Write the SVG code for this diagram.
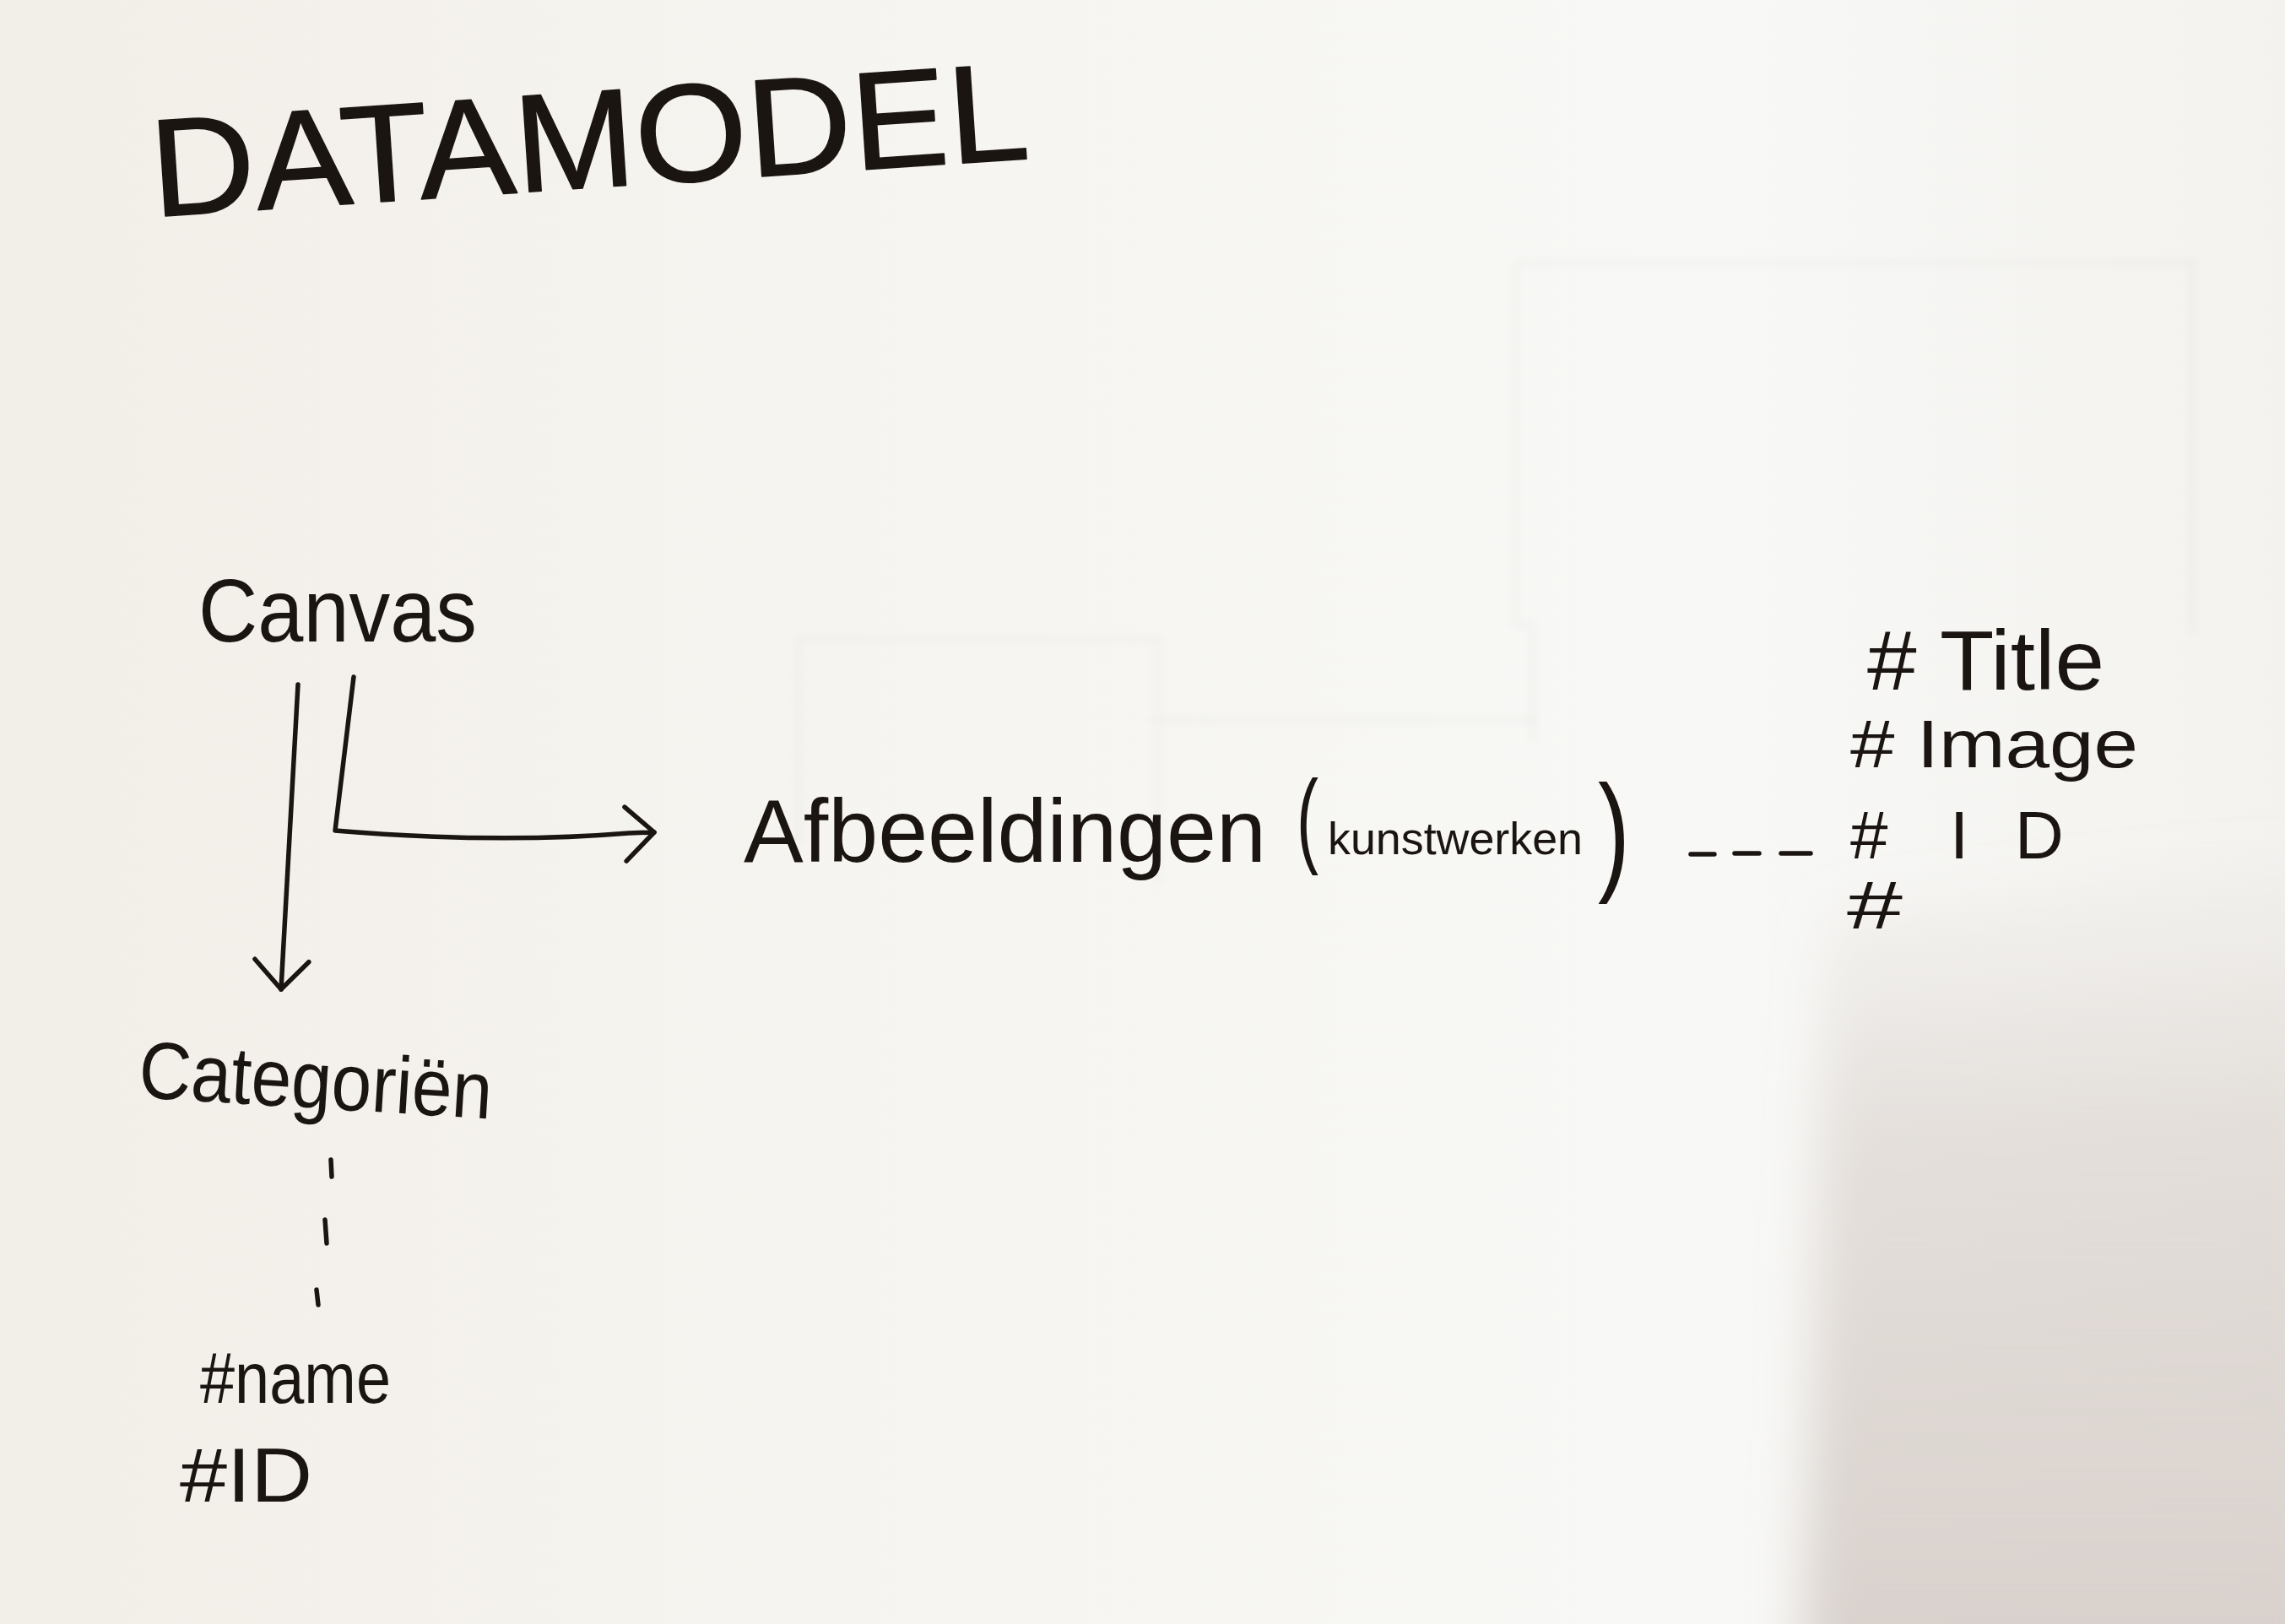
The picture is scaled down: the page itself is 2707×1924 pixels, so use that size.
<svg xmlns="http://www.w3.org/2000/svg" width="2707" height="1924" viewBox="0 0 2707 1924">
  <style>
    .ink { fill: #1b1512; font-family: "Liberation Sans", Arial, sans-serif; }
    .bold { stroke: #1b1512; stroke-width: 1.5; stroke-linejoin: round; }
    .line { fill: none; stroke: #1b1512; stroke-width: 5.5; stroke-linecap: round; stroke-linejoin: round; }
    .ghost { fill: none; stroke: #000; stroke-opacity: 0.02; stroke-width: 9; }
  </style>
  <defs>
    <linearGradient id="paper" x1="0" y1="0" x2="1" y2="0">
      <stop offset="0" stop-color="#f2eee8"/>
      <stop offset="0.4" stop-color="#f6f5f1"/>
      <stop offset="0.75" stop-color="#f8f8f6"/>
      <stop offset="1" stop-color="#f3f2ef"/>
    </linearGradient>
    <linearGradient id="shade" x1="0" y1="0" x2="0" y2="1">
      <stop offset="0" stop-color="#d8d0cb" stop-opacity="0"/>
      <stop offset="0.35" stop-color="#d8d0cb" stop-opacity="0.6"/>
      <stop offset="1" stop-color="#d6cec9" stop-opacity="0.95"/>
    </linearGradient>
    <filter id="soft" x="-20%" y="-20%" width="140%" height="140%">
      <feGaussianBlur stdDeviation="30"/>
    </filter>
    <filter id="blur4"><feGaussianBlur stdDeviation="4"/></filter>
    <marker id="arr" viewBox="-45 -45 55 90" refX="0" refY="0" markerWidth="55" markerHeight="90" markerUnits="userSpaceOnUse" orient="auto" overflow="visible">
      <path d="M-34 -31 L0 0 L-34 33" fill="none" stroke="#1b1512" stroke-width="5.5" stroke-linecap="round" stroke-linejoin="round"/>
    </marker>
  </defs>

  <!-- paper -->
  <rect x="0" y="0" width="2707" height="1924" fill="url(#paper)"/>
  <polygon points="2165,1080 2760,1000 2760,1990 2135,1990" fill="url(#shade)" filter="url(#soft)"/>

  <!-- faint bleed-through shapes -->
  <g filter="url(#blur4)">
    <path class="ghost" d="M1795 311 H2598 V751 M1795 311 V740 H1816 V881"/>
    <path class="ghost" d="M946 1000 V757 H1372 V1050 M1361 853 H1822"/>
  </g>

  <!-- title -->
  <g id="title">
    <text class="ink bold" x="182" y="257" font-size="165" textLength="1042" lengthAdjust="spacingAndGlyphs" transform="rotate(-3.8 182 257)">DATAMODEL</text>
  </g>

  <!-- nodes -->
  <g id="node-canvas">
    <text class="ink" x="235" y="760" font-size="105" textLength="330" lengthAdjust="spacingAndGlyphs">Canvas</text>
  </g>

  <g id="node-afbeeldingen">
    <text class="ink" x="881" y="1021" font-size="106" textLength="619" lengthAdjust="spacingAndGlyphs">Afbeeldingen</text>
    <text class="ink" x="1536" y="1011" font-size="125" textLength="26" lengthAdjust="spacingAndGlyphs">(</text>
    <text class="ink" x="1573" y="1012" font-size="54" textLength="302" lengthAdjust="spacingAndGlyphs">kunstwerken</text>
    <text class="ink" x="1893" y="1039" font-size="155" textLength="38" lengthAdjust="spacingAndGlyphs">)</text>
  </g>

  <g id="node-afbeeldingen-attributes">
    <text class="ink" x="2212" y="817" font-size="100" textLength="281" lengthAdjust="spacingAndGlyphs"># Title</text>
    <text class="ink" x="2192" y="909" font-size="80" textLength="341" lengthAdjust="spacingAndGlyphs"># Image</text>
    <text class="ink" x="2192 2260 2310 2387" y="1017" font-size="80"># ID</text>
    <text class="ink" x="2188" y="1100" font-size="80" textLength="66" lengthAdjust="spacingAndGlyphs">#</text>
  </g>

  <g id="node-categorien">
    <text class="ink" x="163" y="1300" font-size="96" textLength="419" lengthAdjust="spacingAndGlyphs" transform="rotate(3.5 163 1300)">Categoriën</text>
  </g>

  <g id="node-categorien-attributes">
    <text class="ink" x="237" y="1662" font-size="85" textLength="226" lengthAdjust="spacingAndGlyphs">#name</text>
    <text class="ink" x="213" y="1779" font-size="90" textLength="157" lengthAdjust="spacingAndGlyphs">#ID</text>
  </g>

  <!-- connectors -->
  <g id="connectors">
    <path class="line" d="M353 811 L333 1172" marker-end="url(#arr)"/>
    <path class="line" d="M419 802 L397 984 Q590 1000 745 987 L775 986" marker-end="url(#arr)"/>
    <path class="line" d="M2003 1012 H2031 M2055 1011 H2084 M2110 1011 H2145"/>
    <path class="line" d="M392 1374 L393 1394 M385 1445 L387 1473 M375 1528 L377 1546"/>
  </g>
</svg>
